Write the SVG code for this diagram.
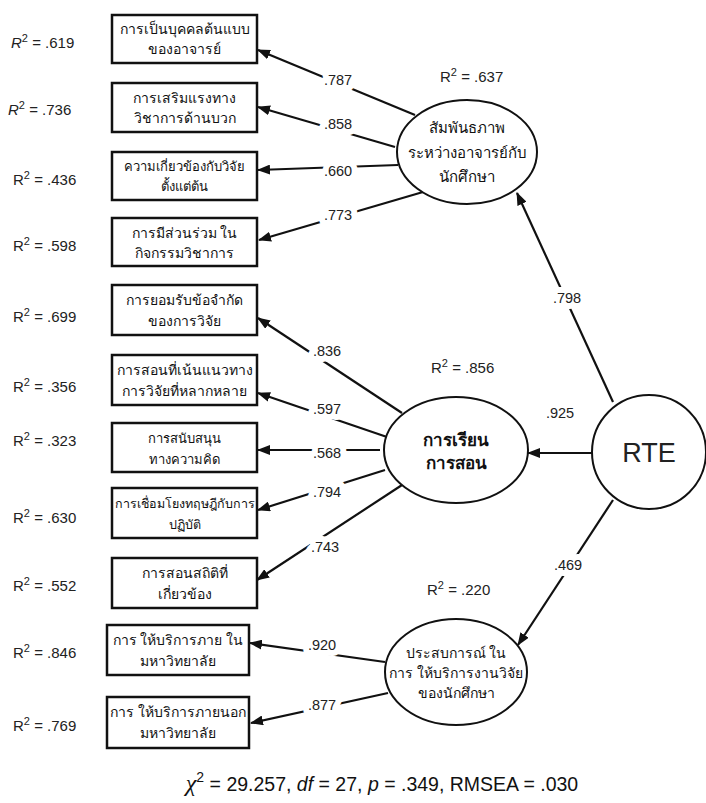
<svg xmlns="http://www.w3.org/2000/svg" width="706" height="803" viewBox="0 0 706 803">
  <style>
    .box { fill: #fff; stroke: #111; stroke-width: 2.5; }
    .lat { fill: #fff; stroke: #111; stroke-width: 2; }
    .bt { font-family: "Liberation Sans", "Noto Sans", sans-serif; font-size: 14px; fill: #111; text-anchor: middle; }
    .lt { font-family: "Liberation Sans", "Noto Sans", sans-serif; font-size: 15px; fill: #111; text-anchor: middle; }
    .r2 { font-family: "Liberation Sans", Arial, sans-serif; font-size: 15px; fill: #222; }
    .sup { font-size: 11px; }
    .coef { font-family: "Liberation Sans", Arial, sans-serif; font-size: 14.5px; fill: #222; text-anchor: middle;
            stroke: #fff; stroke-width: 12px; stroke-linejoin: round; paint-order: stroke; }
    .path { stroke: #111; stroke-width: 2.2; fill: none; marker-end: url(#arrow); }
  </style>
  <defs>
    <marker id="arrow" markerUnits="userSpaceOnUse" markerWidth="13" markerHeight="10" refX="12" refY="5" orient="auto">
      <path d="M0,0 L13,5 L0,10 Z" fill="#111"/>
    </marker>
  </defs>

  <rect width="706" height="803" fill="#fff"/>

  <!-- connectors -->
  <g id="connectors">
    <line class="path" x1="415" y1="115" x2="258" y2="50"/>
    <line class="path" x1="395" y1="147" x2="258" y2="107"/>
    <line class="path" x1="398" y1="165" x2="258" y2="170"/>
    <line class="path" x1="423" y1="192" x2="259" y2="240"/>
    <line class="path" x1="402" y1="413" x2="258" y2="318"/>
    <line class="path" x1="387" y1="437" x2="258" y2="393"/>
    <line class="path" x1="380" y1="450" x2="258" y2="450"/>
    <line class="path" x1="385" y1="470" x2="258" y2="510"/>
    <line class="path" x1="402" y1="485" x2="257" y2="580"/>
    <line class="path" x1="385" y1="662" x2="250" y2="643"/>
    <line class="path" x1="388" y1="693" x2="251" y2="723"/>
    <line class="path" x1="613" y1="402" x2="517" y2="193"/>
    <line class="path" x1="592" y1="453" x2="528" y2="453"/>
    <line class="path" x1="613" y1="500" x2="518" y2="645"/>

    <text class="coef" x="338" y="85">.787</text>
    <text class="coef" x="338" y="129">.858</text>
    <text class="coef" x="338" y="176">.660</text>
    <text class="coef" x="338" y="220">.773</text>
    <text class="coef" x="327" y="356">.836</text>
    <text class="coef" x="327" y="414">.597</text>
    <text class="coef" x="327" y="458">.568</text>
    <text class="coef" x="327" y="497">.794</text>
    <text class="coef" x="325" y="552">.743</text>
    <text class="coef" x="322" y="650">.920</text>
    <text class="coef" x="322" y="710">.877</text>
    <text class="coef" x="567" y="303">.798</text>
    <text class="coef" x="560" y="418">.925</text>
    <text class="coef" x="568" y="570">.469</text>
  </g>

  <!-- observed indicators -->
  <g id="n1"><rect class="box" x="112" y="15" width="145" height="48"/>
    <text class="bt" x="184.5" y="34">การเป็นบุคคลต้นแบบ</text><text class="bt" x="184.5" y="54">ของอาจารย์</text></g>
  <g id="n2"><rect class="box" x="112" y="83" width="145" height="49"/>
    <text class="bt" x="184.5" y="103">การเสริมแรงทาง</text><text class="bt" x="184.5" y="123">วิชาการด้านบวก</text></g>
  <g id="n3"><rect class="box" x="112" y="152" width="145" height="48"/>
    <text class="bt" x="184.5" y="171" style="font-size:13px">ความเกี่ยวข้องกับวิจัย</text><text class="bt" x="184.5" y="191" style="font-size:13px">ตั้งแต่ต้น</text></g>
  <g id="n4"><rect class="box" x="112" y="218" width="145" height="48"/>
    <text class="bt" x="184.5" y="238">การมีส่วนร่วม ใน</text><text class="bt" x="184.5" y="258">กิจกรรมวิชาการ</text></g>
  <g id="n5"><rect class="box" x="112" y="285" width="145" height="50"/>
    <text class="bt" x="184.5" y="305">การยอมรับข้อจำกัด</text><text class="bt" x="184.5" y="326">ของการวิจัย</text></g>
  <g id="n6"><rect class="box" x="112" y="355" width="145" height="50"/>
    <text class="bt" x="184.5" y="375">การสอนที่เน้นแนวทาง</text><text class="bt" x="184.5" y="396">การวิจัยที่หลากหลาย</text></g>
  <g id="n7"><rect class="box" x="112" y="423" width="145" height="49"/>
    <text class="bt" x="184.5" y="443" style="font-size:13px">การสนับสนุน</text><text class="bt" x="184.5" y="464" style="font-size:13px">ทางความคิด</text></g>
  <g id="n8"><rect class="box" x="112" y="488" width="145" height="50"/>
    <text class="bt" x="184.5" y="508" style="font-size:12.5px">การเชื่อมโยงทฤษฎีกับการ</text><text class="bt" x="184.5" y="529" style="font-size:12.5px">ปฏิบัติ</text></g>
  <g id="n9"><rect class="box" x="112" y="558" width="145" height="50"/>
    <text class="bt" x="184.5" y="578">การสอนสถิติที่</text><text class="bt" x="184.5" y="599">เกี่ยวข้อง</text></g>
  <g id="n10"><rect class="box" x="107" y="625" width="142" height="50"/>
    <text class="bt" x="178" y="645">การ ให้บริการภาย ใน</text><text class="bt" x="178" y="666">มหาวิทยาลัย</text></g>
  <g id="n11"><rect class="box" x="107" y="697" width="142" height="51"/>
    <text class="bt" x="178" y="717">การ ให้บริการภายนอก</text><text class="bt" x="178" y="738">มหาวิทยาลัย</text></g>

  <!-- explained variance of indicators -->
  <g id="r2-indicators">
    <text class="r2" x="11" y="48"><tspan font-style="italic">R</tspan><tspan class="sup" dy="-6">2</tspan><tspan dy="6"> = .619</tspan></text>
    <text class="r2" x="8" y="115"><tspan font-style="italic">R</tspan><tspan class="sup" dy="-6">2</tspan><tspan dy="6"> = .736</tspan></text>
    <text class="r2" x="13" y="185">R<tspan class="sup" dy="-6">2</tspan><tspan dy="6"> = .436</tspan></text>
    <text class="r2" x="13" y="251">R<tspan class="sup" dy="-6">2</tspan><tspan dy="6"> = .598</tspan></text>
    <text class="r2" x="13" y="322">R<tspan class="sup" dy="-6">2</tspan><tspan dy="6"> = .699</tspan></text>
    <text class="r2" x="13" y="392">R<tspan class="sup" dy="-6">2</tspan><tspan dy="6"> = .356</tspan></text>
    <text class="r2" x="13" y="446">R<tspan class="sup" dy="-6">2</tspan><tspan dy="6"> = .323</tspan></text>
    <text class="r2" x="13" y="523">R<tspan class="sup" dy="-6">2</tspan><tspan dy="6"> = .630</tspan></text>
    <text class="r2" x="13" y="591">R<tspan class="sup" dy="-6">2</tspan><tspan dy="6"> = .552</tspan></text>
    <text class="r2" x="13" y="658">R<tspan class="sup" dy="-6">2</tspan><tspan dy="6"> = .846</tspan></text>
    <text class="r2" x="13" y="731">R<tspan class="sup" dy="-6">2</tspan><tspan dy="6"> = .769</tspan></text>
  </g>

  <!-- latent factors -->
  <g id="f-relation"><ellipse class="lat" cx="467" cy="152" rx="70" ry="52"/>
    <text class="lt" x="467" y="133">สัมพันธภาพ</text><text class="lt" x="467" y="158">ระหว่างอาจารย์กับ</text><text class="lt" x="467" y="182">นักศึกษา</text>
    <text class="r2" x="440" y="82">R<tspan class="sup" dy="-6">2</tspan><tspan dy="6"> = .637</tspan></text></g>
  <g id="f-teaching"><ellipse class="lat" cx="456" cy="450" rx="72" ry="53"/>
    <text class="lt" x="456" y="446" style="font-size:17px;font-weight:bold">การเรียน</text><text class="lt" x="456" y="469" style="font-size:17px;font-weight:bold">การสอน</text>
    <text class="r2" x="431" y="373">R<tspan class="sup" dy="-6">2</tspan><tspan dy="6"> = .856</tspan></text></g>
  <g id="f-service"><ellipse class="lat" cx="456" cy="672" rx="71" ry="53"/>
    <text class="lt" x="456" y="658" style="font-size:14px">ประสบการณ์ ใน</text><text class="lt" x="456" y="678" style="font-size:14px">การ ให้บริการงานวิจัย</text><text class="lt" x="456" y="698" style="font-size:14px">ของนักศึกษา</text>
    <text class="r2" x="427" y="595">R<tspan class="sup" dy="-6">2</tspan><tspan dy="6"> = .220</tspan></text></g>
  <g id="f-rte"><circle class="lat" cx="649" cy="452" r="57"/>
    <text x="649" y="462" text-anchor="middle" font-family="Liberation Sans, Arial, sans-serif" font-size="27" fill="#222">RTE</text></g>

  <!-- model fit -->
  <text x="382" y="791" text-anchor="middle" font-family="Liberation Sans, Arial, sans-serif" font-size="19.5" fill="#111"><tspan font-family="Liberation Serif, serif" font-style="italic" font-size="24">χ</tspan><tspan font-size="14" dy="-9">2</tspan><tspan dy="9"> = 29.257, </tspan><tspan font-style="italic">df</tspan><tspan> = 27, </tspan><tspan font-style="italic">p</tspan><tspan> = .349, RMSEA = .030</tspan></text>
</svg>
